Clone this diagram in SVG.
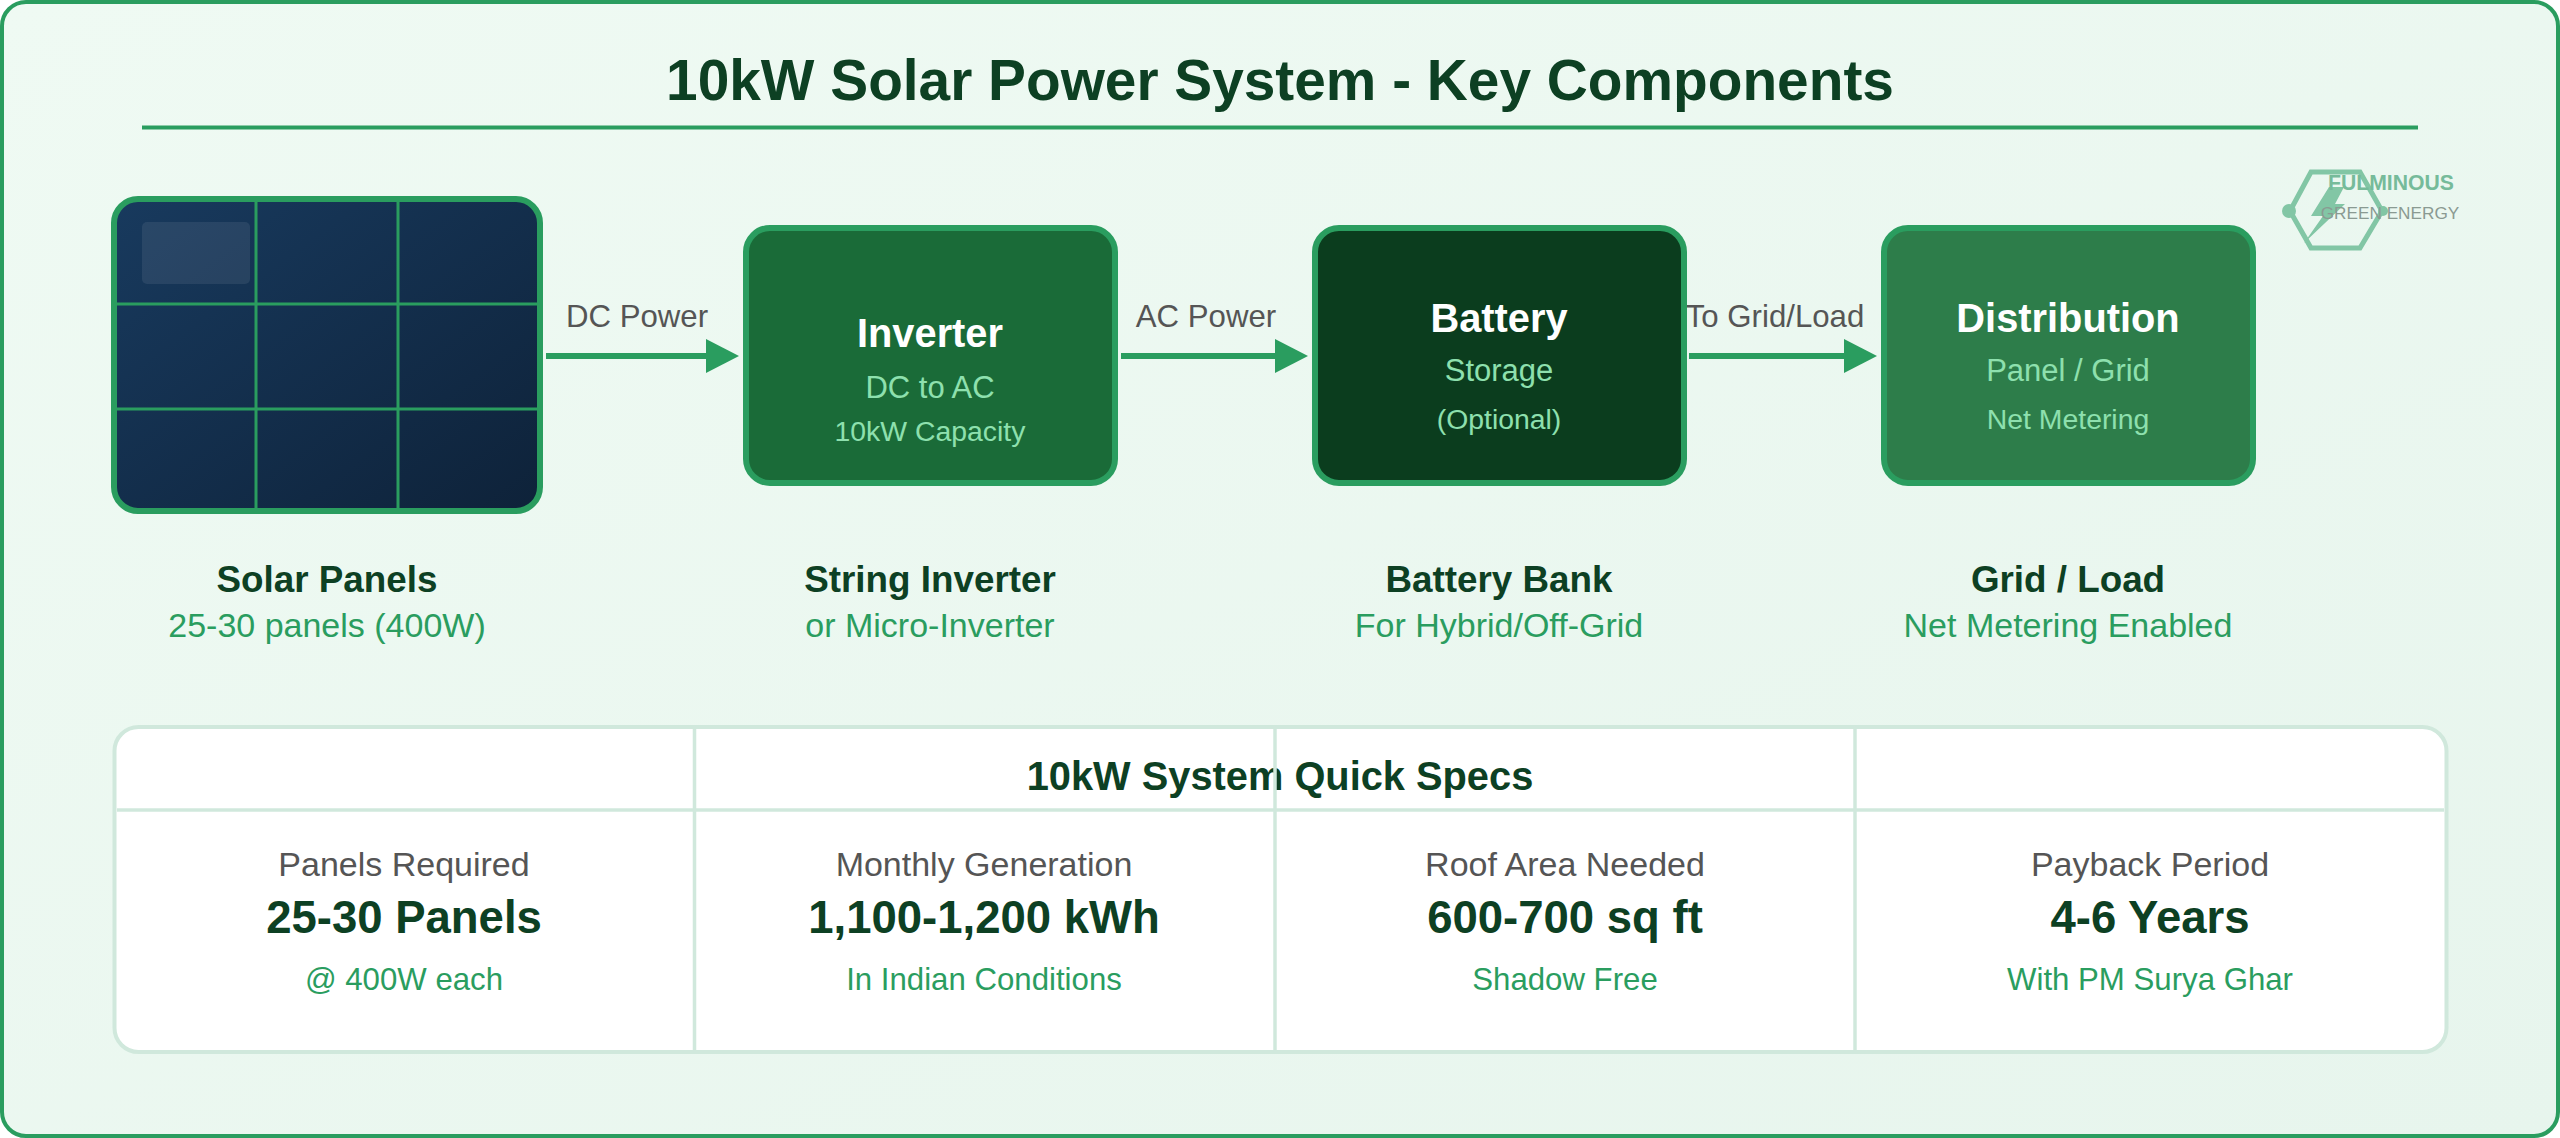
<svg xmlns="http://www.w3.org/2000/svg" width="2560" height="1138" viewBox="0 0 2560 1138">
<style>
text{font-family:"Liberation Sans",Arial,sans-serif;text-anchor:middle}
.box{stroke:#2a9d5f;stroke-width:6}
.head{font-weight:700;font-size:39.8px;fill:#fff}
.s1{font-size:31px;fill:#8ee0ae}
.s2{font-size:28.4px;fill:#8ee0ae}
.conn{stroke:#2a9d5f;stroke-width:6;fill:none;marker-end:url(#arrow)}
.clab{font-size:31.2px;fill:#555}
.cap{font-weight:700;font-size:36.8px;fill:#0d4023}
.sub{font-size:34px;fill:#2a9d5f}
.grid{stroke:#2a9d5f;stroke-width:3}
.div{stroke:#d0e8dc;stroke-width:3.5}
.sl{font-size:34px;fill:#555}
.sv{font-weight:700;font-size:45.5px;fill:#0d4023}
.sn{font-size:31.2px;fill:#2a9d5f}
</style>
<defs>
<linearGradient id="bg" x1="0" y1="0" x2="1" y2="1"><stop offset="0" stop-color="#effaf3"/><stop offset="1" stop-color="#e7f5ed"/></linearGradient>
<linearGradient id="pv" x1="0" y1="0" x2="1" y2="1"><stop offset="0" stop-color="#183a5e"/><stop offset="1" stop-color="#0e2239"/></linearGradient>
<marker id="arrow" markerUnits="userSpaceOnUse" markerWidth="33" markerHeight="34" refX="0" refY="17" orient="auto"><path d="M0 0L33 17L0 34Z" fill="#2a9d5f"/></marker>
</defs>
<rect id="frame" x="2" y="2" width="2556" height="1134" rx="24" fill="url(#bg)" stroke="#2a9d5f" stroke-width="4"/>
<g id="title">
<text x="1280" y="100" font-size="56.8" font-weight="700" fill="#0d4023">10kW Solar Power System - Key Components</text>
<line x1="142" y1="127.5" x2="2418" y2="127.5" stroke="#2a9d5f" stroke-width="4"/>
</g>
<g id="logo">
<path d="M2290 211L2311 172H2360L2382 211L2360 248H2311Z" fill="none" stroke="#82c6a5" stroke-width="5"/>
<circle cx="2289" cy="211" r="7" fill="#82c6a5"/>
<circle cx="2383" cy="211" r="5" fill="#82c6a5"/>
<path d="M2329 187H2344L2335 204H2345L2304 243L2323 216H2311Z" fill="#82c6a5"/>
<text x="2391" y="190" font-size="21.2" font-weight="700" fill="#76bb9a">FULMINOUS</text>
<text x="2390" y="219" font-size="17.2" fill="#8a9a92">GREEN ENERGY</text>
</g>
<g id="connectors">
<line class="conn" x1="546" y1="356" x2="706" y2="356"/>
<line class="conn" x1="1121" y1="356" x2="1275" y2="356"/>
<line class="conn" x1="1689" y1="356" x2="1844" y2="356"/>
<text class="clab" x="637" y="327">DC Power</text>
<text class="clab" x="1206" y="327">AC Power</text>
<text class="clab" x="1775" y="327">To Grid/Load</text>
</g>
<g id="solar-panels">
<rect class="box" x="114" y="199" width="426" height="312" rx="24" fill="url(#pv)"/>
<rect x="142" y="222" width="108" height="62" rx="5" fill="#fff" fill-opacity=".08"/>
<line class="grid" x1="256" y1="202" x2="256" y2="508"/>
<line class="grid" x1="398" y1="202" x2="398" y2="508"/>
<line class="grid" x1="117" y1="304" x2="537" y2="304"/>
<line class="grid" x1="117" y1="409" x2="537" y2="409"/>
<text class="cap" x="327" y="592">Solar Panels</text>
<text class="sub" x="327" y="637">25-30 panels (400W)</text>
</g>
<g id="inverter">
<rect class="box" x="746" y="228" width="369" height="255" rx="24" fill="#1a6b38"/>
<text class="head" x="930" y="347">Inverter</text>
<text class="s1" x="930" y="398">DC to AC</text>
<text class="s2" x="930" y="441">10kW Capacity</text>
<text class="cap" x="930" y="592">String Inverter</text>
<text class="sub" x="930" y="637">or Micro-Inverter</text>
</g>
<g id="battery">
<rect class="box" x="1315" y="228" width="369" height="255" rx="24" fill="#0b3d1e"/>
<text class="head" x="1499" y="332">Battery</text>
<text class="s1" x="1499" y="381">Storage</text>
<text class="s2" x="1499" y="429">(Optional)</text>
<text class="cap" x="1499" y="592">Battery Bank</text>
<text class="sub" x="1499" y="637">For Hybrid/Off-Grid</text>
</g>
<g id="distribution">
<rect class="box" x="1884" y="228" width="369" height="255" rx="24" fill="#2d7d4a"/>
<text class="head" x="2068" y="332">Distribution</text>
<text class="s1" x="2068" y="381">Panel / Grid</text>
<text class="s2" x="2068" y="429">Net Metering</text>
<text class="cap" x="2068" y="592">Grid / Load</text>
<text class="sub" x="2068" y="637">Net Metering Enabled</text>
</g>
<g id="specs">
<rect x="114.5" y="727" width="2332" height="325" rx="24" fill="#fff" stroke="#d0e8dc" stroke-width="4"/>
<text x="1280" y="790" font-size="39.8" font-weight="700" fill="#0d4023">10kW System Quick Specs</text>
<line class="div" x1="117" y1="810" x2="2444" y2="810"/>
<line class="div" x1="694.5" y1="729" x2="694.5" y2="1050"/>
<line class="div" x1="1275" y1="729" x2="1275" y2="1050"/>
<line class="div" x1="1855" y1="729" x2="1855" y2="1050"/>
<text class="sl" x="404" y="876">Panels Required</text>
<text class="sv" x="404" y="933">25-30 Panels</text>
<text class="sn" x="404" y="990">@ 400W each</text>
<text class="sl" x="984" y="876">Monthly Generation</text>
<text class="sv" x="984" y="933">1,100-1,200 kWh</text>
<text class="sn" x="984" y="990">In Indian Conditions</text>
<text class="sl" x="1565" y="876">Roof Area Needed</text>
<text class="sv" x="1565" y="933">600-700 sq ft</text>
<text class="sn" x="1565" y="990">Shadow Free</text>
<text class="sl" x="2150" y="876">Payback Period</text>
<text class="sv" x="2150" y="933">4-6 Years</text>
<text class="sn" x="2150" y="990">With PM Surya Ghar</text>
</g>
</svg>
